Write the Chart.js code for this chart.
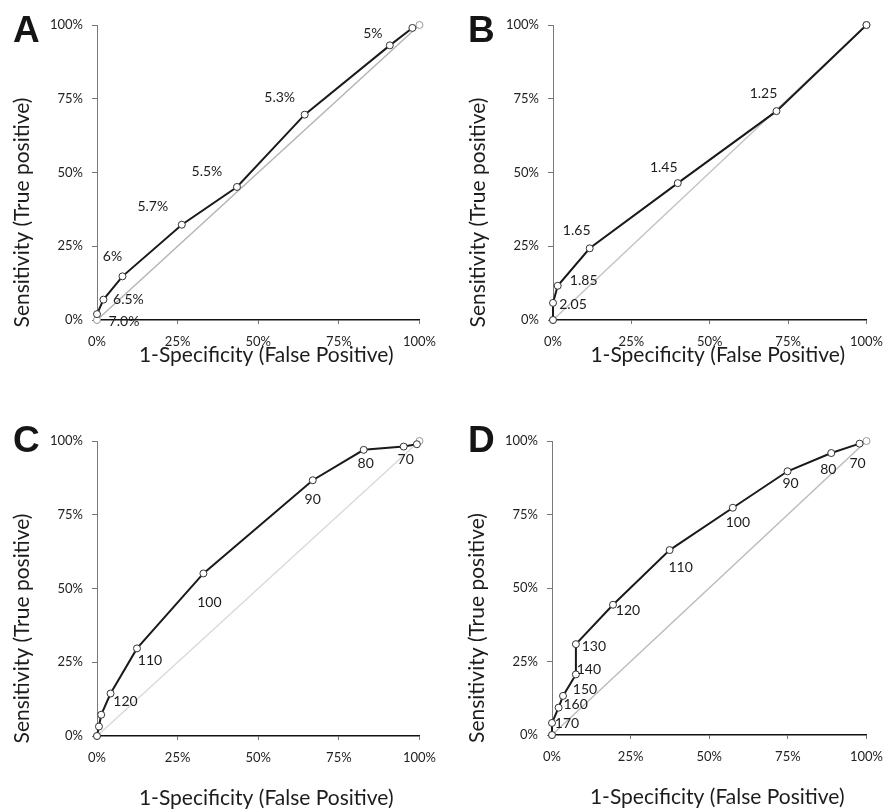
<!DOCTYPE html>
<html>
<head>
<meta charset="utf-8">
<script src="https://cdn.jsdelivr.net/npm/chart.js@4.4.1/dist/chart.umd.min.js"></script>
<style>
  body { margin: 0; background: #fff; }
  #wrap { position: relative; width: 893px; height: 809px; }
  canvas { position: absolute; }
</style>
</head>
<body>
<div id="wrap">
  <canvas id="chartA" width="446" height="404" style="left:0;top:0"></canvas>
  <canvas id="chartB" width="447" height="404" style="left:446px;top:0"></canvas>
  <canvas id="chartC" width="446" height="405" style="left:0;top:404px"></canvas>
  <canvas id="chartD" width="447" height="405" style="left:446px;top:404px"></canvas>
</div>
<script>
// axis ticks (percent)
const axisTicks = [0, 25, 50, 75, 100];
const diagonal = [0, 100];

// A
const fprA = [0, 2, 7.9, 26.3, 43.4, 64.4, 90.8, 97.8];
const tprA = [2, 6.9, 14.8, 32.3, 45.1, 69.6, 93.1, 99];
const cutA = ['7.0%', '6.5%', '6%', '5.7%', '5.5%', '5.3%', '5%', ''];

// B
const fprB = [0, 0, 1.5, 11.7, 39.8, 71.3, 100];
const tprB = [0, 5.8, 11.6, 24.3, 46.4, 70.8, 100];
const cutB = ['', '2.05', '1.85', '1.65', '1.45', '1.25', ''];

// C
const fprC = [0, 0.6, 1.3, 4.2, 12.4, 33.0, 66.9, 82.7, 95.1, 99.2];
const tprC = [0, 3.2, 7.2, 14.4, 29.7, 55.1, 86.7, 97.0, 98.1, 98.9];
const cutC = ['', '', '', '120', '110', '100', '90', '80', '70', ''];

// D
const fprD = [0, 0, 2.1, 3.5, 7.6, 7.6, 19.4, 37.4, 57.5, 74.9, 88.8, 97.8];
const tprD = [0, 4.1, 9.3, 13.3, 20.6, 30.9, 44.3, 62.9, 77.3, 89.7, 95.9, 99.1];
const cutD = ['', '170', '160', '150', '140', '130', '120', '110', '100', '90', '80', '70'];

const xTitle = '1-Specificity (False Positive)';
const yTitle = 'Sensitivity (True positive)';
const FONT = 'Lato, "Open Sans", sans-serif';

const panels = [
  { id: 'chartA', letter: 'A', fpr: fprA, tpr: tprA, cuts: cutA, diag: '#b4b4b4',
    area: { left: 97, top: 25, right: 422, bottom: 320 }, letterPos: [13, 42], xGap: 35,
    offs: [[27, 7], [25, 0], [-10, -20], [-29, -18], [-30, -15], [-25, -17], [-17, -12], null] },
  { id: 'chartB', letter: 'B', fpr: fprB, tpr: tprB, cuts: cutB, diag: '#c4c4c4',
    area: { left: 107, top: 25, right: 432, bottom: 320 }, letterPos: [22, 42], xGap: 35,
    offs: [null, [20, 2], [26, -5], [-13, -18], [-14, -16], [-13, -18], null] },
  { id: 'chartC', letter: 'C', fpr: fprC, tpr: tprC, cuts: cutC, diag: '#dadada',
    area: { left: 97, top: 37, right: 422, bottom: 332 }, letterPos: [13, 48], xGap: 62,
    offs: [null, null, null, [15, 8], [13, 12], [6, 29], [0, 19], [2, 14], [2, 13], null] },
  { id: 'chartD', letter: 'D', fpr: fprD, tpr: tprD, cuts: cutD, diag: '#bcbcbc',
    area: { left: 106, top: 37, right: 431, bottom: 331 }, letterPos: [22, 48], xGap: 62,
    offs: [null, [15, 1], [17, -3], [22, -6], [13, -5], [18, 2], [15, 6], [11, 17], [5, 15], [3, 12], [-3, 16], [-2, 20]] },
];

// letters, axis titles and cut-off labels
const panelText = {
  id: 'panelText',
  afterDraw(chart, args, opts) {
    const ctx = chart.ctx;
    const a = chart.chartArea;
    const p = opts.panel;
    ctx.save();
    ctx.fillStyle = '#151515';
    ctx.font = 'bold 37px "Liberation Sans", Arial, sans-serif';
    ctx.textAlign = 'left';
    ctx.textBaseline = 'alphabetic';
    ctx.fillText(p.letter, p.letterPos[0], p.letterPos[1]);

    ctx.fillStyle = '#1c1c1c';
    ctx.font = '21px ' + FONT;
    ctx.textAlign = 'center';
    ctx.textBaseline = 'middle';
    ctx.fillText(xTitle, (a.left + a.right) / 2 + 8, a.bottom + p.xGap);
    ctx.save();
    ctx.translate(a.left - 75, (a.top + a.bottom) / 2 + 40);
    ctx.rotate(-Math.PI / 2);
    ctx.fillText(yTitle, 0, 0);
    ctx.restore();

    ctx.font = '14px ' + FONT;
    const pts = chart.getDatasetMeta(0).data;
    p.cuts.forEach((t, i) => {
      if (!t || !p.offs[i]) return;
      ctx.fillText(t, pts[i].x + p.offs[i][0], pts[i].y + p.offs[i][1]);
    });
    ctx.restore();
  }
};

function axis(p, horizontal) {
  return {
    type: 'linear',
    min: 0,
    max: 100,
    afterBuildTicks: (s) => { s.ticks = axisTicks.map((v) => ({ value: v })); },
    afterFit: (s) => {
      if (horizontal) s.height = s.chart.height - p.area.bottom;
      else s.width = p.area.left;
    },
    border: horizontal ? { color: '#111', width: 1.5 } : { color: '#7a7a7a', width: 1 },
    grid: { drawOnChartArea: false, drawTicks: true, tickLength: horizontal ? 4 : 5, color: '#777' },
    ticks: {
      padding: horizontal ? 10 : 9,
      color: '#222',
      font: { family: FONT, size: 13 },
      callback: (v) => v + '%',
    },
  };
}

panels.forEach((p) => {
  const canvas = document.getElementById(p.id);
  new Chart(canvas, {
    type: 'scatter',
    data: {
      datasets: [
        {
          data: p.fpr.map((v, i) => ({ x: v, y: p.tpr[i] })),
          showLine: true,
          borderColor: '#1a1a1a',
          borderWidth: 2,
          pointRadius: 3.5,
          pointBackgroundColor: '#fff',
          pointBorderColor: '#333',
          pointBorderWidth: 1,
          clip: false,
          order: 1,
        },
        {
          data: diagonal.map((v) => ({ x: v, y: v })),
          showLine: true,
          borderColor: p.diag,
          borderWidth: 1.5,
          pointRadius: 3.5,
          pointBackgroundColor: '#fff',
          pointBorderColor: '#999',
          pointBorderWidth: 1,
          clip: false,
          order: 2,
        },
      ],
    },
    options: {
      responsive: false,
      animation: false,
      events: [],
      layout: { padding: { top: p.area.top, right: canvas.width - p.area.right, left: 0, bottom: 0 } },
      scales: { x: axis(p, true), y: axis(p, false) },
      plugins: { legend: { display: false }, tooltip: { enabled: false }, panelText: { panel: p } },
    },
    plugins: [panelText],
  });
});
</script>
</body>
</html>
